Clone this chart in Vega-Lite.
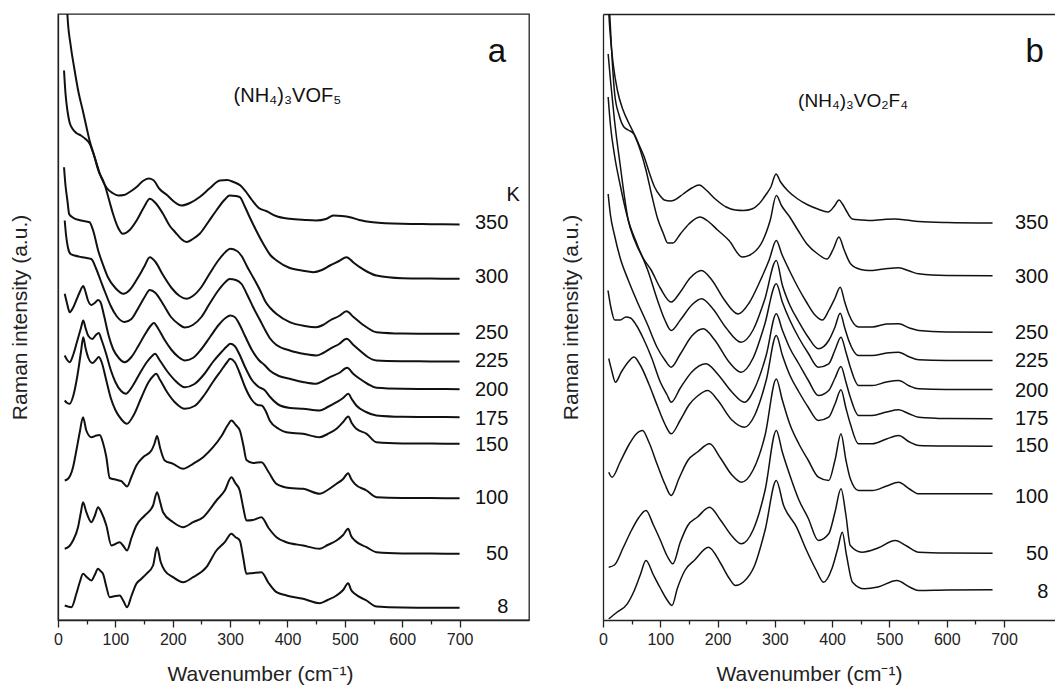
{
"$schema": "https://vega.github.io/schema/vega-lite/v6.json",
"padding": {"left": 8, "top": 13, "right": 0, "bottom": 0},
"spacing": 30,
"config": {"font": "Liberation Sans", "view": {"stroke": "#222", "strokeWidth": 1.3}, "axis": {"domainColor": "#222", "tickColor": "#222", "labelColor": "#222", "titleColor": "#222", "grid": false, "titleFontWeight": "normal", "domainWidth": 1.3, "tickWidth": 1.3}},
"datasets": {
"a": [
{"T":"350","wn":12,"I":700},{"T":"350","wn":16.4,"I":605.5},{"T":"350","wn":22,"I":575},{"T":"350","wn":28,"I":553},{"T":"350","wn":36,"I":527},{"T":"350","wn":43,"I":510},{"T":"350","wn":50,"I":492},{"T":"350","wn":55,"I":479.5},{"T":"350","wn":64,"I":462.8},{"T":"350","wn":75,"I":443},{"T":"350","wn":85,"I":432},{"T":"350","wn":95,"I":427},{"T":"350","wn":105,"I":424.5},{"T":"350","wn":115,"I":425},{"T":"350","wn":125,"I":428},{"T":"350","wn":137,"I":433},{"T":"350","wn":148,"I":439},{"T":"350","wn":158,"I":441.5},{"T":"350","wn":166,"I":440},{"T":"350","wn":177,"I":431},{"T":"350","wn":190,"I":425},{"T":"350","wn":203,"I":418},{"T":"350","wn":215,"I":414.5},{"T":"350","wn":230,"I":417},{"T":"350","wn":247,"I":423},{"T":"350","wn":265,"I":432},{"T":"350","wn":282,"I":439.5},{"T":"350","wn":295,"I":440},{"T":"350","wn":306,"I":438},{"T":"350","wn":318,"I":434.5},{"T":"350","wn":328,"I":428},{"T":"350","wn":338,"I":420},{"T":"350","wn":350,"I":412},{"T":"350","wn":363,"I":409},{"T":"350","wn":380,"I":404},{"T":"350","wn":404,"I":401.2},{"T":"350","wn":430,"I":400},{"T":"350","wn":450,"I":399.5},{"T":"350","wn":467,"I":401},{"T":"350","wn":480,"I":404.5},{"T":"350","wn":495,"I":404},{"T":"350","wn":509,"I":402.8},{"T":"350","wn":525,"I":400},{"T":"350","wn":549,"I":397.8},{"T":"350","wn":600,"I":396.2},{"T":"350","wn":650,"I":395.8},{"T":"350","wn":700,"I":395.5},
{"T":"300","wn":10.5,"I":549.5},{"T":"300","wn":13,"I":527},{"T":"300","wn":16.4,"I":509.5},{"T":"300","wn":20,"I":498},{"T":"300","wn":25,"I":491.5},{"T":"300","wn":32,"I":487},{"T":"300","wn":40,"I":484.5},{"T":"300","wn":48,"I":481},{"T":"300","wn":55,"I":476.5},{"T":"300","wn":62,"I":466},{"T":"300","wn":70,"I":450},{"T":"300","wn":81,"I":436},{"T":"300","wn":90,"I":418},{"T":"300","wn":96,"I":406},{"T":"300","wn":105,"I":392},{"T":"300","wn":113,"I":386.2},{"T":"300","wn":125,"I":390},{"T":"300","wn":137,"I":399.5},{"T":"300","wn":150,"I":413},{"T":"300","wn":160,"I":421.2},{"T":"300","wn":170,"I":417},{"T":"300","wn":183,"I":406.2},{"T":"300","wn":195,"I":394},{"T":"300","wn":204,"I":388},{"T":"300","wn":215,"I":381},{"T":"300","wn":224,"I":378},{"T":"300","wn":235,"I":381},{"T":"300","wn":247,"I":386.2},{"T":"300","wn":262,"I":398},{"T":"300","wn":276,"I":409.5},{"T":"300","wn":290,"I":420},{"T":"300","wn":299,"I":424.5},{"T":"300","wn":310,"I":424},{"T":"300","wn":317,"I":422.8},{"T":"300","wn":326,"I":413},{"T":"300","wn":334,"I":403},{"T":"300","wn":345,"I":390},{"T":"300","wn":358,"I":376},{"T":"300","wn":370,"I":365},{"T":"300","wn":381,"I":359.5},{"T":"300","wn":404,"I":352},{"T":"300","wn":425,"I":349.5},{"T":"300","wn":445,"I":347.8},{"T":"300","wn":460,"I":350},{"T":"300","wn":474,"I":354.5},{"T":"300","wn":490,"I":359},{"T":"300","wn":503,"I":362.8},{"T":"300","wn":515,"I":357.5},{"T":"300","wn":526,"I":352.8},{"T":"300","wn":540,"I":348},{"T":"300","wn":555,"I":344.5},{"T":"300","wn":600,"I":341.8},{"T":"300","wn":650,"I":341.4},{"T":"300","wn":700,"I":341.2},
{"T":"250","wn":10.5,"I":452.8},{"T":"250","wn":13,"I":435},{"T":"250","wn":16.4,"I":419.5},{"T":"250","wn":19.4,"I":406},{"T":"250","wn":25,"I":402.8},{"T":"250","wn":40,"I":399.5},{"T":"250","wn":55,"I":397.8},{"T":"250","wn":62,"I":388},{"T":"250","wn":70,"I":369.5},{"T":"250","wn":78,"I":356},{"T":"250","wn":87,"I":342.8},{"T":"250","wn":100,"I":332},{"T":"250","wn":114,"I":326.2},{"T":"250","wn":125,"I":330},{"T":"250","wn":140,"I":343},{"T":"250","wn":150,"I":353},{"T":"250","wn":160,"I":362.8},{"T":"250","wn":170,"I":358},{"T":"250","wn":183,"I":345},{"T":"250","wn":198,"I":332},{"T":"250","wn":212,"I":324},{"T":"250","wn":224,"I":321.2},{"T":"250","wn":235,"I":324},{"T":"250","wn":250,"I":333},{"T":"250","wn":265,"I":347},{"T":"250","wn":280,"I":360},{"T":"250","wn":292,"I":368},{"T":"250","wn":300,"I":371.2},{"T":"250","wn":312,"I":369},{"T":"250","wn":320,"I":364},{"T":"250","wn":330,"I":353},{"T":"250","wn":340,"I":342.8},{"T":"250","wn":352,"I":330},{"T":"250","wn":362,"I":318},{"T":"250","wn":370,"I":312},{"T":"250","wn":381,"I":306},{"T":"250","wn":404,"I":297.8},{"T":"250","wn":430,"I":294},{"T":"250","wn":450,"I":292.8},{"T":"250","wn":462,"I":295},{"T":"250","wn":474,"I":299.5},{"T":"250","wn":490,"I":304},{"T":"250","wn":503,"I":308.8},{"T":"250","wn":515,"I":303},{"T":"250","wn":526,"I":297.8},{"T":"250","wn":540,"I":292},{"T":"250","wn":555,"I":287.8},{"T":"250","wn":600,"I":286.5},{"T":"250","wn":650,"I":286.3},{"T":"250","wn":700,"I":286.2},
{"T":"225","wn":11.7,"I":399.5},{"T":"225","wn":14,"I":385},{"T":"225","wn":17.5,"I":372},{"T":"225","wn":22,"I":366},{"T":"225","wn":29,"I":364.5},{"T":"225","wn":40,"I":363},{"T":"225","wn":50,"I":362},{"T":"225","wn":58,"I":361},{"T":"225","wn":66,"I":352},{"T":"225","wn":74,"I":340},{"T":"225","wn":82,"I":328},{"T":"225","wn":92,"I":314},{"T":"225","wn":102,"I":304},{"T":"225","wn":116,"I":298},{"T":"225","wn":128,"I":301},{"T":"225","wn":140,"I":312},{"T":"225","wn":150,"I":322},{"T":"225","wn":160,"I":330},{"T":"225","wn":170,"I":327},{"T":"225","wn":183,"I":316},{"T":"225","wn":197,"I":303},{"T":"225","wn":210,"I":296},{"T":"225","wn":221,"I":292.5},{"T":"225","wn":235,"I":295},{"T":"225","wn":250,"I":303},{"T":"225","wn":265,"I":317},{"T":"225","wn":280,"I":330},{"T":"225","wn":292,"I":338},{"T":"225","wn":299,"I":341},{"T":"225","wn":310,"I":340},{"T":"225","wn":320,"I":336},{"T":"225","wn":330,"I":325},{"T":"225","wn":340,"I":313},{"T":"225","wn":352,"I":300},{"T":"225","wn":362,"I":289},{"T":"225","wn":369,"I":282},{"T":"225","wn":381,"I":275},{"T":"225","wn":404,"I":269.5},{"T":"225","wn":430,"I":266},{"T":"225","wn":450,"I":264.5},{"T":"225","wn":462,"I":267},{"T":"225","wn":474,"I":271.2},{"T":"225","wn":490,"I":276},{"T":"225","wn":503,"I":281.2},{"T":"225","wn":515,"I":275},{"T":"225","wn":526,"I":269.5},{"T":"225","wn":540,"I":263},{"T":"225","wn":555,"I":259.5},{"T":"225","wn":600,"I":258.8},{"T":"225","wn":650,"I":258.6},{"T":"225","wn":700,"I":258.5},
{"T":"200","wn":11.7,"I":326.2},{"T":"200","wn":16,"I":316},{"T":"200","wn":20.4,"I":307.8},{"T":"200","wn":26,"I":312},{"T":"200","wn":32,"I":320},{"T":"200","wn":38,"I":328},{"T":"200","wn":44,"I":334},{"T":"200","wn":47,"I":330},{"T":"200","wn":52,"I":320},{"T":"200","wn":58,"I":315},{"T":"200","wn":64,"I":317},{"T":"200","wn":70,"I":320},{"T":"200","wn":74,"I":318},{"T":"200","wn":80,"I":305},{"T":"200","wn":88,"I":285},{"T":"200","wn":96,"I":271},{"T":"200","wn":106,"I":262},{"T":"200","wn":116,"I":257.8},{"T":"200","wn":128,"I":263},{"T":"200","wn":140,"I":274},{"T":"200","wn":152,"I":286},{"T":"200","wn":162,"I":294.5},{"T":"200","wn":167,"I":297},{"T":"200","wn":175,"I":291},{"T":"200","wn":186,"I":280},{"T":"200","wn":198,"I":270},{"T":"200","wn":210,"I":263},{"T":"200","wn":221,"I":259.5},{"T":"200","wn":235,"I":262},{"T":"200","wn":250,"I":271},{"T":"200","wn":265,"I":283},{"T":"200","wn":280,"I":295},{"T":"200","wn":292,"I":302},{"T":"200","wn":300,"I":304.5},{"T":"200","wn":308,"I":303},{"T":"200","wn":316,"I":296},{"T":"200","wn":326,"I":284},{"T":"200","wn":338,"I":270},{"T":"200","wn":350,"I":260},{"T":"200","wn":360,"I":255},{"T":"200","wn":369,"I":249.5},{"T":"200","wn":385,"I":244},{"T":"200","wn":404,"I":241.2},{"T":"200","wn":427,"I":238},{"T":"200","wn":450,"I":236.2},{"T":"200","wn":462,"I":239},{"T":"200","wn":474,"I":242.8},{"T":"200","wn":490,"I":247},{"T":"200","wn":504,"I":252.2},{"T":"200","wn":515,"I":246},{"T":"200","wn":526,"I":241.2},{"T":"200","wn":540,"I":236},{"T":"200","wn":555,"I":232.2},{"T":"200","wn":600,"I":231.2},{"T":"200","wn":650,"I":231},{"T":"200","wn":700,"I":230.8},
{"T":"175","wn":11.7,"I":264.5},{"T":"175","wn":16,"I":260},{"T":"175","wn":20.4,"I":257.8},{"T":"175","wn":27,"I":266},{"T":"175","wn":34,"I":280},{"T":"175","wn":40,"I":292},{"T":"175","wn":44,"I":299.5},{"T":"175","wn":48,"I":292},{"T":"175","wn":53,"I":284},{"T":"175","wn":60,"I":281},{"T":"175","wn":66,"I":285},{"T":"175","wn":71,"I":287},{"T":"175","wn":76,"I":280},{"T":"175","wn":84,"I":266},{"T":"175","wn":92,"I":250},{"T":"175","wn":100,"I":238},{"T":"175","wn":110,"I":229},{"T":"175","wn":118,"I":226.2},{"T":"175","wn":130,"I":234},{"T":"175","wn":142,"I":246},{"T":"175","wn":155,"I":258},{"T":"175","wn":164,"I":264},{"T":"175","wn":169,"I":266.2},{"T":"175","wn":177,"I":260},{"T":"175","wn":190,"I":249},{"T":"175","wn":205,"I":239},{"T":"175","wn":221,"I":232.8},{"T":"175","wn":238,"I":236},{"T":"175","wn":255,"I":246},{"T":"175","wn":270,"I":258},{"T":"175","wn":285,"I":268},{"T":"175","wn":295,"I":274},{"T":"175","wn":300,"I":276.2},{"T":"175","wn":308,"I":274},{"T":"175","wn":316,"I":266},{"T":"175","wn":326,"I":253},{"T":"175","wn":338,"I":240},{"T":"175","wn":350,"I":233},{"T":"175","wn":360,"I":230},{"T":"175","wn":369,"I":223.5},{"T":"175","wn":387,"I":214.5},{"T":"175","wn":405,"I":212},{"T":"175","wn":427,"I":211.2},{"T":"175","wn":456,"I":209.5},{"T":"175","wn":470,"I":213},{"T":"175","wn":485.5,"I":217.8},{"T":"175","wn":497,"I":222},{"T":"175","wn":506,"I":226.2},{"T":"175","wn":512,"I":221},{"T":"175","wn":520,"I":214.5},{"T":"175","wn":537,"I":208},{"T":"175","wn":555,"I":204.5},{"T":"175","wn":600,"I":203.2},{"T":"175","wn":650,"I":203},{"T":"175","wn":700,"I":202.8},
{"T":"150","wn":11.7,"I":219.5},{"T":"150","wn":16,"I":217},{"T":"150","wn":20.4,"I":216.2},{"T":"150","wn":27,"I":225},{"T":"150","wn":34,"I":245},{"T":"150","wn":40,"I":268},{"T":"150","wn":44,"I":282.8},{"T":"150","wn":48,"I":272},{"T":"150","wn":53,"I":262},{"T":"150","wn":60,"I":257},{"T":"150","wn":66,"I":260},{"T":"150","wn":71,"I":263},{"T":"150","wn":76,"I":258},{"T":"150","wn":84,"I":240},{"T":"150","wn":92,"I":222},{"T":"150","wn":100,"I":210},{"T":"150","wn":110,"I":201},{"T":"150","wn":120,"I":196.2},{"T":"150","wn":132,"I":205},{"T":"150","wn":145,"I":222},{"T":"150","wn":158,"I":238},{"T":"150","wn":166,"I":244},{"T":"150","wn":171,"I":246.2},{"T":"150","wn":178,"I":240},{"T":"150","wn":190,"I":228},{"T":"150","wn":205,"I":217},{"T":"150","wn":221,"I":211.2},{"T":"150","wn":238,"I":214},{"T":"150","wn":255,"I":225},{"T":"150","wn":270,"I":238},{"T":"150","wn":285,"I":250},{"T":"150","wn":295,"I":258},{"T":"150","wn":300,"I":261.2},{"T":"150","wn":308,"I":258},{"T":"150","wn":316,"I":248},{"T":"150","wn":326,"I":233},{"T":"150","wn":338,"I":220},{"T":"150","wn":348,"I":215},{"T":"150","wn":355,"I":214.5},{"T":"150","wn":362,"I":209},{"T":"150","wn":369,"I":199.5},{"T":"150","wn":385,"I":191},{"T":"150","wn":398,"I":187.8},{"T":"150","wn":427,"I":186.2},{"T":"150","wn":456,"I":182.8},{"T":"150","wn":470,"I":186},{"T":"150","wn":485.5,"I":191.2},{"T":"150","wn":497,"I":198},{"T":"150","wn":506,"I":203.5},{"T":"150","wn":512,"I":197},{"T":"150","wn":520,"I":191.2},{"T":"150","wn":538,"I":186.2},{"T":"150","wn":555,"I":177.8},{"T":"150","wn":600,"I":176.6},{"T":"150","wn":650,"I":176.4},{"T":"150","wn":700,"I":176.2},
{"T":"100","wn":11.7,"I":139.5},{"T":"100","wn":17.5,"I":141.2},{"T":"100","wn":26.2,"I":152.8},{"T":"100","wn":32,"I":169.5},{"T":"100","wn":38,"I":188},{"T":"100","wn":43.6,"I":202.8},{"T":"100","wn":49.4,"I":189.5},{"T":"100","wn":58.2,"I":182.8},{"T":"100","wn":66.9,"I":184.5},{"T":"100","wn":72.7,"I":185},{"T":"100","wn":78,"I":178},{"T":"100","wn":84.3,"I":162.8},{"T":"100","wn":90.1,"I":142},{"T":"100","wn":101.8,"I":140.2},{"T":"100","wn":110.5,"I":138.8},{"T":"100","wn":120.4,"I":133.5},{"T":"100","wn":128,"I":143},{"T":"100","wn":136.6,"I":154.5},{"T":"100","wn":148.3,"I":162.8},{"T":"100","wn":162.8,"I":169.5},{"T":"100","wn":168,"I":176},{"T":"100","wn":172.7,"I":184},{"T":"100","wn":178,"I":172},{"T":"100","wn":186,"I":159.5},{"T":"100","wn":200.6,"I":156.2},{"T":"100","wn":218,"I":151.2},{"T":"100","wn":235.5,"I":156.2},{"T":"100","wn":253,"I":162.8},{"T":"100","wn":270.3,"I":172.8},{"T":"100","wn":285,"I":184},{"T":"100","wn":296,"I":195},{"T":"100","wn":302.3,"I":199.5},{"T":"100","wn":310,"I":195},{"T":"100","wn":317,"I":189.5},{"T":"100","wn":323,"I":175},{"T":"100","wn":328.5,"I":160},{"T":"100","wn":340,"I":157},{"T":"100","wn":354.6,"I":157.8},{"T":"100","wn":367,"I":148},{"T":"100","wn":380.8,"I":136.2},{"T":"100","wn":404,"I":132},{"T":"100","wn":427.3,"I":131.2},{"T":"100","wn":456.4,"I":126.2},{"T":"100","wn":470,"I":130},{"T":"100","wn":485.5,"I":136.2},{"T":"100","wn":497,"I":141},{"T":"100","wn":505.8,"I":146.8},{"T":"100","wn":511,"I":141},{"T":"100","wn":517.4,"I":136.2},{"T":"100","wn":537.8,"I":129.5},{"T":"100","wn":555.2,"I":122.8},{"T":"100","wn":600,"I":122},{"T":"100","wn":650,"I":121.9},{"T":"100","wn":700,"I":121.8},
{"T":"50","wn":11.7,"I":71.2},{"T":"50","wn":20,"I":74},{"T":"50","wn":26.2,"I":79.5},{"T":"50","wn":34.9,"I":92.8},{"T":"50","wn":40,"I":108},{"T":"50","wn":43.6,"I":117.8},{"T":"50","wn":49.4,"I":107.8},{"T":"50","wn":58.2,"I":97.8},{"T":"50","wn":64,"I":104},{"T":"50","wn":69.8,"I":112.8},{"T":"50","wn":75.6,"I":107.8},{"T":"50","wn":84.3,"I":94.5},{"T":"50","wn":93,"I":74.5},{"T":"50","wn":100,"I":76},{"T":"50","wn":107.6,"I":77.8},{"T":"50","wn":114,"I":74},{"T":"50","wn":120.4,"I":69.5},{"T":"50","wn":128,"I":82},{"T":"50","wn":136.6,"I":94.5},{"T":"50","wn":151.2,"I":104.5},{"T":"50","wn":165.7,"I":114.5},{"T":"50","wn":172.7,"I":127.8},{"T":"50","wn":178,"I":118},{"T":"50","wn":183.1,"I":107.8},{"T":"50","wn":200.6,"I":97.8},{"T":"50","wn":218,"I":92.8},{"T":"50","wn":235.5,"I":97.8},{"T":"50","wn":253,"I":102.8},{"T":"50","wn":276.2,"I":119.5},{"T":"50","wn":290.7,"I":129.5},{"T":"50","wn":302.3,"I":142.8},{"T":"50","wn":309,"I":137},{"T":"50","wn":316.8,"I":129.5},{"T":"50","wn":323,"I":112},{"T":"50","wn":328.5,"I":99.5},{"T":"50","wn":340,"I":100},{"T":"50","wn":354.6,"I":102.8},{"T":"50","wn":367,"I":92},{"T":"50","wn":380.8,"I":82.8},{"T":"50","wn":398.3,"I":77.8},{"T":"50","wn":427.3,"I":74.5},{"T":"50","wn":456.4,"I":71.2},{"T":"50","wn":470,"I":75},{"T":"50","wn":485.5,"I":79.5},{"T":"50","wn":497,"I":85},{"T":"50","wn":505.8,"I":91.2},{"T":"50","wn":511,"I":84},{"T":"50","wn":517.4,"I":79.5},{"T":"50","wn":537.8,"I":72.8},{"T":"50","wn":555.2,"I":67.8},{"T":"50","wn":600,"I":66.6},{"T":"50","wn":650,"I":66.4},{"T":"50","wn":700,"I":66.2},
{"T":"8","wn":11.7,"I":14.5},{"T":"8","wn":23.3,"I":12.8},{"T":"8","wn":32,"I":26.2},{"T":"8","wn":38,"I":38},{"T":"8","wn":43.6,"I":46.2},{"T":"8","wn":50,"I":43},{"T":"8","wn":58.2,"I":39.5},{"T":"8","wn":64,"I":45},{"T":"8","wn":69.8,"I":51.2},{"T":"8","wn":74,"I":49},{"T":"8","wn":78.5,"I":46.2},{"T":"8","wn":84,"I":34},{"T":"8","wn":90.1,"I":22.8},{"T":"8","wn":100,"I":24},{"T":"8","wn":107.6,"I":24.5},{"T":"8","wn":114,"I":19},{"T":"8","wn":120.4,"I":12.8},{"T":"8","wn":128,"I":24},{"T":"8","wn":136.6,"I":36.2},{"T":"8","wn":145,"I":41},{"T":"8","wn":154.1,"I":46.2},{"T":"8","wn":165.7,"I":54.5},{"T":"8","wn":172.7,"I":72.8},{"T":"8","wn":179,"I":58},{"T":"8","wn":186,"I":49.5},{"T":"8","wn":200.6,"I":42.8},{"T":"8","wn":218,"I":37.8},{"T":"8","wn":235.5,"I":42.8},{"T":"8","wn":258.7,"I":52.8},{"T":"8","wn":276.2,"I":69.5},{"T":"8","wn":290.7,"I":77.8},{"T":"8","wn":302.3,"I":86.2},{"T":"8","wn":309,"I":83},{"T":"8","wn":316.8,"I":79.5},{"T":"8","wn":323,"I":62},{"T":"8","wn":328.5,"I":46.2},{"T":"8","wn":340,"I":47},{"T":"8","wn":354.6,"I":47.8},{"T":"8","wn":367,"I":37},{"T":"8","wn":380.8,"I":27.8},{"T":"8","wn":398.3,"I":24.5},{"T":"8","wn":427.3,"I":21.2},{"T":"8","wn":456.4,"I":16.8},{"T":"8","wn":470,"I":20},{"T":"8","wn":485.5,"I":24.5},{"T":"8","wn":497,"I":30},{"T":"8","wn":505.8,"I":36.8},{"T":"8","wn":511,"I":30},{"T":"8","wn":517.4,"I":26.2},{"T":"8","wn":537.8,"I":19.5},{"T":"8","wn":555.2,"I":13.5},{"T":"8","wn":600,"I":12.4},{"T":"8","wn":650,"I":12.3},{"T":"8","wn":700,"I":12.2}
],
"b": [
{"T":"350","wn":3,"I":700},{"T":"350","wn":8,"I":640},{"T":"350","wn":11.7,"I":606},{"T":"350","wn":16,"I":560},{"T":"350","wn":20.4,"I":526},{"T":"350","wn":28,"I":505},{"T":"350","wn":36.5,"I":493},{"T":"350","wn":44,"I":490},{"T":"350","wn":54,"I":486},{"T":"350","wn":63,"I":475},{"T":"350","wn":72,"I":463},{"T":"350","wn":81,"I":447},{"T":"350","wn":90,"I":433},{"T":"350","wn":100,"I":424},{"T":"350","wn":107,"I":420},{"T":"350","wn":118,"I":419},{"T":"350","wn":125,"I":420},{"T":"350","wn":140,"I":426},{"T":"350","wn":155,"I":432},{"T":"350","wn":168,"I":435},{"T":"350","wn":180,"I":430},{"T":"350","wn":196,"I":421},{"T":"350","wn":215,"I":413},{"T":"350","wn":231,"I":410},{"T":"350","wn":245,"I":409.5},{"T":"350","wn":260,"I":411},{"T":"350","wn":272,"I":416},{"T":"350","wn":284,"I":425},{"T":"350","wn":293,"I":433},{"T":"350","wn":302,"I":446},{"T":"350","wn":310,"I":438},{"T":"350","wn":323,"I":429},{"T":"350","wn":340,"I":421},{"T":"350","wn":358,"I":415},{"T":"350","wn":375,"I":411},{"T":"350","wn":393,"I":408},{"T":"350","wn":404,"I":414},{"T":"350","wn":412,"I":420},{"T":"350","wn":418,"I":416},{"T":"350","wn":424,"I":410},{"T":"350","wn":435,"I":401},{"T":"350","wn":450,"I":400},{"T":"350","wn":464,"I":399.5},{"T":"350","wn":490,"I":400.5},{"T":"350","wn":510,"I":401},{"T":"350","wn":530,"I":400},{"T":"350","wn":551,"I":398.5},{"T":"350","wn":600,"I":397.5},{"T":"350","wn":680,"I":397},
{"T":"300","wn":3,"I":700},{"T":"300","wn":8,"I":630},{"T":"300","wn":12,"I":590},{"T":"300","wn":18,"I":555},{"T":"300","wn":25,"I":530},{"T":"300","wn":35,"I":510},{"T":"300","wn":45,"I":497},{"T":"300","wn":55,"I":485},{"T":"300","wn":65,"I":470},{"T":"300","wn":75,"I":450},{"T":"300","wn":85,"I":425},{"T":"300","wn":95,"I":402},{"T":"300","wn":105,"I":387},{"T":"300","wn":113,"I":377},{"T":"300","wn":122,"I":377},{"T":"300","wn":135,"I":386},{"T":"300","wn":150,"I":396},{"T":"300","wn":169,"I":403},{"T":"300","wn":185,"I":398},{"T":"300","wn":200,"I":390},{"T":"300","wn":220,"I":379.5},{"T":"300","wn":243,"I":363},{"T":"300","wn":262,"I":367},{"T":"300","wn":279,"I":379.5},{"T":"300","wn":292,"I":400},{"T":"300","wn":302.5,"I":424.5},{"T":"300","wn":312,"I":414},{"T":"300","wn":326,"I":403},{"T":"300","wn":340,"I":390},{"T":"300","wn":356,"I":376},{"T":"300","wn":375,"I":366},{"T":"300","wn":391,"I":361},{"T":"300","wn":402,"I":371},{"T":"300","wn":411.8,"I":383},{"T":"300","wn":421,"I":370},{"T":"300","wn":432.5,"I":356},{"T":"300","wn":450,"I":350.5},{"T":"300","wn":464,"I":349.5},{"T":"300","wn":490,"I":351},{"T":"300","wn":516,"I":352.2},{"T":"300","wn":535,"I":349},{"T":"300","wn":551,"I":346.2},{"T":"300","wn":600,"I":344.5},{"T":"300","wn":680,"I":344.2},
{"T":"250","wn":9,"I":566},{"T":"250","wn":13,"I":540},{"T":"250","wn":20,"I":500},{"T":"250","wn":30,"I":455},{"T":"250","wn":44,"I":400},{"T":"250","wn":55,"I":380},{"T":"250","wn":70,"I":362},{"T":"250","wn":84,"I":350},{"T":"250","wn":100,"I":332},{"T":"250","wn":119,"I":318},{"T":"250","wn":135,"I":328},{"T":"250","wn":152,"I":342},{"T":"250","wn":172,"I":349.5},{"T":"250","wn":190,"I":340},{"T":"250","wn":212,"I":320},{"T":"250","wn":236,"I":306},{"T":"250","wn":255,"I":317},{"T":"250","wn":275,"I":340},{"T":"250","wn":290,"I":360},{"T":"250","wn":302.5,"I":379.5},{"T":"250","wn":312,"I":366},{"T":"250","wn":325,"I":350},{"T":"250","wn":340,"I":333},{"T":"250","wn":355,"I":318},{"T":"250","wn":370,"I":305},{"T":"250","wn":383,"I":300},{"T":"250","wn":394,"I":309.5},{"T":"250","wn":405,"I":322},{"T":"250","wn":414,"I":332.8},{"T":"250","wn":422,"I":318},{"T":"250","wn":429,"I":306},{"T":"250","wn":446,"I":293},{"T":"250","wn":470,"I":293},{"T":"250","wn":495,"I":296},{"T":"250","wn":516,"I":296.2},{"T":"250","wn":535,"I":292},{"T":"250","wn":551,"I":289.5},{"T":"250","wn":600,"I":288},{"T":"250","wn":680,"I":287.8},
{"T":"225","wn":9,"I":523},{"T":"225","wn":13,"I":495},{"T":"225","wn":20,"I":465},{"T":"225","wn":30,"I":435},{"T":"225","wn":44,"I":400},{"T":"225","wn":60,"I":375},{"T":"225","wn":78,"I":350},{"T":"225","wn":95,"I":320},{"T":"225","wn":108,"I":300},{"T":"225","wn":119,"I":289.5},{"T":"225","wn":135,"I":300},{"T":"225","wn":155,"I":315},{"T":"225","wn":172,"I":321.2},{"T":"225","wn":192,"I":311},{"T":"225","wn":215,"I":292},{"T":"225","wn":241,"I":277.8},{"T":"225","wn":262,"I":290},{"T":"225","wn":282,"I":320},{"T":"225","wn":302.5,"I":359.5},{"T":"225","wn":313,"I":335},{"T":"225","wn":326,"I":315},{"T":"225","wn":342,"I":298},{"T":"225","wn":358,"I":283},{"T":"225","wn":376,"I":271.2},{"T":"225","wn":394,"I":279.5},{"T":"225","wn":405,"I":293},{"T":"225","wn":414,"I":306.8},{"T":"225","wn":422,"I":292},{"T":"225","wn":429,"I":279.5},{"T":"225","wn":446,"I":264.5},{"T":"225","wn":470,"I":264.5},{"T":"225","wn":495,"I":267},{"T":"225","wn":516,"I":267.8},{"T":"225","wn":535,"I":263},{"T":"225","wn":551,"I":260.2},{"T":"225","wn":600,"I":259.6},{"T":"225","wn":680,"I":259.5},
{"T":"200","wn":9,"I":426},{"T":"200","wn":13,"I":405},{"T":"200","wn":20,"I":385},{"T":"200","wn":30,"I":362},{"T":"200","wn":44,"I":340},{"T":"200","wn":60,"I":318},{"T":"200","wn":78,"I":295},{"T":"200","wn":95,"I":272},{"T":"200","wn":108,"I":260},{"T":"200","wn":119,"I":252.8},{"T":"200","wn":135,"I":266},{"T":"200","wn":155,"I":284},{"T":"200","wn":175,"I":291.2},{"T":"200","wn":195,"I":280},{"T":"200","wn":220,"I":258},{"T":"200","wn":241,"I":247.8},{"T":"200","wn":262,"I":262},{"T":"200","wn":282,"I":295},{"T":"200","wn":302.5,"I":336.2},{"T":"200","wn":313,"I":318},{"T":"200","wn":326,"I":300},{"T":"200","wn":342,"I":282},{"T":"200","wn":358,"I":267},{"T":"200","wn":376,"I":252.8},{"T":"200","wn":394,"I":256.2},{"T":"200","wn":405,"I":270},{"T":"200","wn":415.4,"I":282.8},{"T":"200","wn":424,"I":268},{"T":"200","wn":431.7,"I":252.8},{"T":"200","wn":446,"I":234.5},{"T":"200","wn":470,"I":234.5},{"T":"200","wn":495,"I":238},{"T":"200","wn":516,"I":239.5},{"T":"200","wn":535,"I":234},{"T":"200","wn":551,"I":231.2},{"T":"200","wn":600,"I":230.6},{"T":"200","wn":680,"I":230.5},
{"T":"175","wn":8.8,"I":329.5},{"T":"175","wn":14,"I":312},{"T":"175","wn":20.4,"I":300},{"T":"175","wn":30,"I":300},{"T":"175","wn":40,"I":303},{"T":"175","wn":48,"I":302},{"T":"175","wn":58,"I":295},{"T":"175","wn":70,"I":282},{"T":"175","wn":85,"I":262},{"T":"175","wn":100,"I":238},{"T":"175","wn":112,"I":225},{"T":"175","wn":119,"I":217.8},{"T":"175","wn":135,"I":232},{"T":"175","wn":155,"I":248},{"T":"175","wn":180,"I":256.2},{"T":"175","wn":200,"I":246},{"T":"175","wn":225,"I":228},{"T":"175","wn":247,"I":217.8},{"T":"175","wn":265,"I":232},{"T":"175","wn":285,"I":265},{"T":"175","wn":302.5,"I":306.2},{"T":"175","wn":313,"I":290},{"T":"175","wn":326,"I":272},{"T":"175","wn":342,"I":256},{"T":"175","wn":358,"I":240},{"T":"175","wn":376,"I":224.5},{"T":"175","wn":394,"I":229.5},{"T":"175","wn":405,"I":242},{"T":"175","wn":415.4,"I":253.5},{"T":"175","wn":424,"I":238},{"T":"175","wn":431.7,"I":222.8},{"T":"175","wn":446,"I":204.5},{"T":"175","wn":470,"I":204.5},{"T":"175","wn":495,"I":208},{"T":"175","wn":516,"I":210.2},{"T":"175","wn":535,"I":206},{"T":"175","wn":551,"I":202.8},{"T":"175","wn":600,"I":201.5},{"T":"175","wn":680,"I":201.2},
{"T":"150","wn":10,"I":261.5},{"T":"150","wn":15,"I":250},{"T":"150","wn":21.7,"I":237.8},{"T":"150","wn":32,"I":248},{"T":"150","wn":44,"I":258},{"T":"150","wn":54,"I":263},{"T":"150","wn":65,"I":255},{"T":"150","wn":80,"I":236},{"T":"150","wn":95,"I":214},{"T":"150","wn":108,"I":196},{"T":"150","wn":119,"I":186.2},{"T":"150","wn":135,"I":200},{"T":"150","wn":150,"I":215},{"T":"150","wn":165,"I":224},{"T":"150","wn":183,"I":229.5},{"T":"150","wn":200,"I":220},{"T":"150","wn":225,"I":200},{"T":"150","wn":247,"I":192.8},{"T":"150","wn":265,"I":205},{"T":"150","wn":285,"I":240},{"T":"150","wn":302.5,"I":284.5},{"T":"150","wn":313,"I":265},{"T":"150","wn":326,"I":245},{"T":"150","wn":342,"I":228},{"T":"150","wn":358,"I":213},{"T":"150","wn":376,"I":199.5},{"T":"150","wn":394,"I":202.8},{"T":"150","wn":405,"I":216},{"T":"150","wn":415.4,"I":230.2},{"T":"150","wn":424,"I":212},{"T":"150","wn":431.7,"I":196.2},{"T":"150","wn":446,"I":176.2},{"T":"150","wn":470,"I":176.2},{"T":"150","wn":495,"I":181},{"T":"150","wn":516,"I":184.5},{"T":"150","wn":535,"I":178},{"T":"150","wn":551,"I":174.5},{"T":"150","wn":600,"I":174},{"T":"150","wn":680,"I":173.8},
{"T":"100","wn":10,"I":147.8},{"T":"100","wn":15.8,"I":142.8},{"T":"100","wn":30,"I":158},{"T":"100","wn":45,"I":175},{"T":"100","wn":58,"I":186},{"T":"100","wn":69,"I":189.5},{"T":"100","wn":80,"I":178},{"T":"100","wn":95,"I":155},{"T":"100","wn":108,"I":136},{"T":"100","wn":119,"I":124.5},{"T":"100","wn":133,"I":142},{"T":"100","wn":148,"I":159.5},{"T":"100","wn":165,"I":168},{"T":"100","wn":186,"I":176.2},{"T":"100","wn":205,"I":162},{"T":"100","wn":225,"I":145},{"T":"100","wn":241.5,"I":137.8},{"T":"100","wn":262,"I":150},{"T":"100","wn":283,"I":185},{"T":"100","wn":302.5,"I":241},{"T":"100","wn":313,"I":220},{"T":"100","wn":326,"I":196},{"T":"100","wn":342,"I":176},{"T":"100","wn":358,"I":160},{"T":"100","wn":376,"I":142.8},{"T":"100","wn":394,"I":139.5},{"T":"100","wn":405,"I":160},{"T":"100","wn":415.4,"I":186.2},{"T":"100","wn":424,"I":160},{"T":"100","wn":431.7,"I":141.2},{"T":"100","wn":446,"I":129.5},{"T":"100","wn":470,"I":129.5},{"T":"100","wn":495,"I":134},{"T":"100","wn":516,"I":137.8},{"T":"100","wn":535,"I":131},{"T":"100","wn":551,"I":126.2},{"T":"100","wn":600,"I":126.3},{"T":"100","wn":680,"I":126.2},
{"T":"50","wn":10,"I":52.8},{"T":"50","wn":20,"I":55},{"T":"50","wn":35,"I":72},{"T":"50","wn":50,"I":90},{"T":"50","wn":62,"I":102},{"T":"50","wn":75,"I":109.5},{"T":"50","wn":88,"I":95},{"T":"50","wn":100,"I":80},{"T":"50","wn":112,"I":64},{"T":"50","wn":122,"I":56.2},{"T":"50","wn":135,"I":78},{"T":"50","wn":148,"I":94.5},{"T":"50","wn":165,"I":103},{"T":"50","wn":186,"I":112.8},{"T":"50","wn":205,"I":100},{"T":"50","wn":225,"I":84},{"T":"50","wn":241.5,"I":76.2},{"T":"50","wn":262,"I":90},{"T":"50","wn":283,"I":130},{"T":"50","wn":302.5,"I":189.5},{"T":"50","wn":313,"I":168},{"T":"50","wn":326,"I":145},{"T":"50","wn":342,"I":120},{"T":"50","wn":358,"I":102},{"T":"50","wn":376,"I":79.5},{"T":"50","wn":394,"I":86.2},{"T":"50","wn":405,"I":108},{"T":"50","wn":415.4,"I":131.2},{"T":"50","wn":424,"I":105},{"T":"50","wn":431.7,"I":74.5},{"T":"50","wn":452,"I":67.8},{"T":"50","wn":480,"I":72},{"T":"50","wn":510,"I":79.5},{"T":"50","wn":530,"I":74},{"T":"50","wn":551,"I":67.8},{"T":"50","wn":600,"I":67},{"T":"50","wn":680,"I":66.8},
{"T":"8","wn":10,"I":1.2},{"T":"8","wn":25,"I":8},{"T":"8","wn":42.4,"I":16.2},{"T":"8","wn":55,"I":30},{"T":"8","wn":65,"I":45},{"T":"8","wn":75,"I":59.5},{"T":"8","wn":88,"I":45},{"T":"8","wn":100,"I":32},{"T":"8","wn":112,"I":20},{"T":"8","wn":120.4,"I":14.5},{"T":"8","wn":130,"I":32},{"T":"8","wn":142.9,"I":49.5},{"T":"8","wn":160,"I":60},{"T":"8","wn":184.2,"I":72.8},{"T":"8","wn":205,"I":57},{"T":"8","wn":220,"I":42},{"T":"8","wn":231.5,"I":34.5},{"T":"8","wn":245,"I":38},{"T":"8","wn":265,"I":55},{"T":"8","wn":283,"I":90},{"T":"8","wn":302.5,"I":139.5},{"T":"8","wn":315,"I":115},{"T":"8","wn":337.9,"I":92.8},{"T":"8","wn":355,"I":70},{"T":"8","wn":372,"I":50},{"T":"8","wn":385,"I":37.8},{"T":"8","wn":400,"I":52},{"T":"8","wn":410,"I":72},{"T":"8","wn":417.7,"I":87.8},{"T":"8","wn":425,"I":65},{"T":"8","wn":435.5,"I":37.8},{"T":"8","wn":456,"I":31.2},{"T":"8","wn":480,"I":33},{"T":"8","wn":513,"I":39.5},{"T":"8","wn":535,"I":33},{"T":"8","wn":551,"I":29.5},{"T":"8","wn":600,"I":30},{"T":"8","wn":680,"I":30.2}
],
"la": [
{"label":"350","wn":785,"I":396.8},{"label":"300","wn":785,"I":342.8},{"label":"250","wn":785,"I":286.8},{"label":"225","wn":785,"I":258.8},{"label":"200","wn":785,"I":230.2},{"label":"175","wn":785,"I":201.2},{"label":"150","wn":785,"I":175.2},{"label":"100","wn":785,"I":122.2},{"label":"50","wn":785,"I":66.2},{"label":"8","wn":785,"I":12.8},{"label":"K","wn":805,"I":425.5}
],
"lb": [
{"label":"350","wn":777.3,"I":396.8},{"label":"300","wn":777.3,"I":343.5},{"label":"250","wn":777.3,"I":286.8},{"label":"225","wn":777.3,"I":258.8},{"label":"200","wn":777.3,"I":229.5},{"label":"175","wn":777.3,"I":201.2},{"label":"150","wn":777.3,"I":174.5},{"label":"100","wn":777.3,"I":122.8},{"label":"50","wn":777.3,"I":66.2},{"label":"8","wn":777.3,"I":28.5}
]
},
"hconcat": [
{
"width": 471, "height": 606,
"resolve": {"axis": {"x": "independent", "y": "independent"}},
"layer": [
{"data": {"name": "a"},
 "mark": {"type": "line", "clip": true, "color": "#111", "strokeWidth": 2, "interpolate": "monotone"},
 "encoding": {
  "x": {"field": "wn", "type": "quantitative", "scale": {"domain": [0, 821], "nice": false, "zero": false},
   "axis": {"values": [0,50,100,150,200,250,300,350,400,450,500,550,600,650,700], "labelExpr": "datum.value % 100 === 0 ? datum.label : ''", "tickSize": {"condition": {"test": "datum.value % 100 !== 0", "value": 4}, "value": 7}, "labelFontSize": 16, "labelPadding": 4, "labelOverlap": false, "labelFlush": false, "title": "Wavenumber (cm⁻¹)", "titleFontSize": 21, "titlePadding": 16, "titleX": 202}},
  "y": {"field": "I", "type": "quantitative", "scale": {"domain": [0, 606], "nice": false, "zero": false},
   "axis": {"title": "Raman intensity (a.u.)", "labels": false, "ticks": false, "titleFontSize": 21, "titlePadding": 28}},
  "detail": {"field": "T", "type": "nominal"}
 }},
{"data": {"name": "la"},
 "mark": {"type": "text", "align": "right", "baseline": "middle", "fontSize": 20, "color": "#111"},
 "encoding": {"x": {"field": "wn", "type": "quantitative", "axis": null}, "y": {"field": "I", "type": "quantitative", "axis": null}, "text": {"field": "label"}}},
{"data": {"values": [{"t": "a", "wn": 765, "I": 557.8}]},
 "mark": {"type": "text", "align": "center", "baseline": "alphabetic", "fontSize": 33, "color": "#111"},
 "encoding": {"x": {"field": "wn", "type": "quantitative", "axis": null}, "y": {"field": "I", "type": "quantitative", "axis": null}, "text": {"field": "t"}}},
{"data": {"values": [{"t": "(NH₄)₃VOF₅", "wn": 306, "I": 517.8}]},
 "mark": {"type": "text", "align": "left", "baseline": "alphabetic", "fontSize": 20, "color": "#111"},
 "encoding": {"x": {"field": "wn", "type": "quantitative", "axis": null}, "y": {"field": "I", "type": "quantitative", "axis": null}, "text": {"field": "t"}}}
]
},
{
"width": 452, "height": 606,
"view": {"stroke": null},
"resolve": {"axis": {"x": "independent", "y": "independent"}},
"layer": [
{"data": {"name": "b"},
 "mark": {"type": "line", "clip": true, "color": "#111", "strokeWidth": 1.5, "interpolate": "monotone"},
 "encoding": {
  "x": {"field": "wn", "type": "quantitative", "scale": {"domain": [0, 789], "nice": false, "zero": false},
   "axis": {"values": [0,50,100,150,200,250,300,350,400,450,500,550,600,650,700], "labelExpr": "datum.value % 100 === 0 ? datum.label : ''", "tickSize": {"condition": {"test": "datum.value % 100 !== 0", "value": 4}, "value": 7}, "labelFontSize": 16, "labelPadding": 4, "labelOverlap": false, "labelFlush": false, "title": "Wavenumber (cm⁻¹)", "titleFontSize": 21, "titlePadding": 16, "titleX": 206}},
  "y": {"field": "I", "type": "quantitative", "scale": {"domain": [0, 606], "nice": false, "zero": false},
   "axis": {"title": "Raman intensity (a.u.)", "labels": false, "ticks": false, "titleFontSize": 21, "titlePadding": 22}},
  "detail": {"field": "T", "type": "nominal"}
 }},
{"data": {"name": "lb"},
 "mark": {"type": "text", "align": "right", "baseline": "middle", "fontSize": 20, "color": "#111"},
 "encoding": {"x": {"field": "wn", "type": "quantitative", "axis": null}, "y": {"field": "I", "type": "quantitative", "axis": null}, "text": {"field": "label"}}},
{"data": {"values": [{"t": "b", "wn": 753.6, "I": 558.5}]},
 "mark": {"type": "text", "align": "center", "baseline": "alphabetic", "fontSize": 33, "color": "#111"},
 "encoding": {"x": {"field": "wn", "type": "quantitative", "axis": {"orient": "top", "labels": false, "ticks": false, "title": null, "domain": true, "grid": false}}, "y": {"field": "I", "type": "quantitative", "axis": null}, "text": {"field": "t"}}},
{"data": {"values": [{"t": "(NH₄)₃VO₂F₄", "wn": 340.6, "I": 512.8}]},
 "mark": {"type": "text", "align": "left", "baseline": "alphabetic", "fontSize": 19, "color": "#111"},
 "encoding": {"x": {"field": "wn", "type": "quantitative", "axis": null}, "y": {"field": "I", "type": "quantitative", "axis": null}, "text": {"field": "t"}}}
]
}
]
}
